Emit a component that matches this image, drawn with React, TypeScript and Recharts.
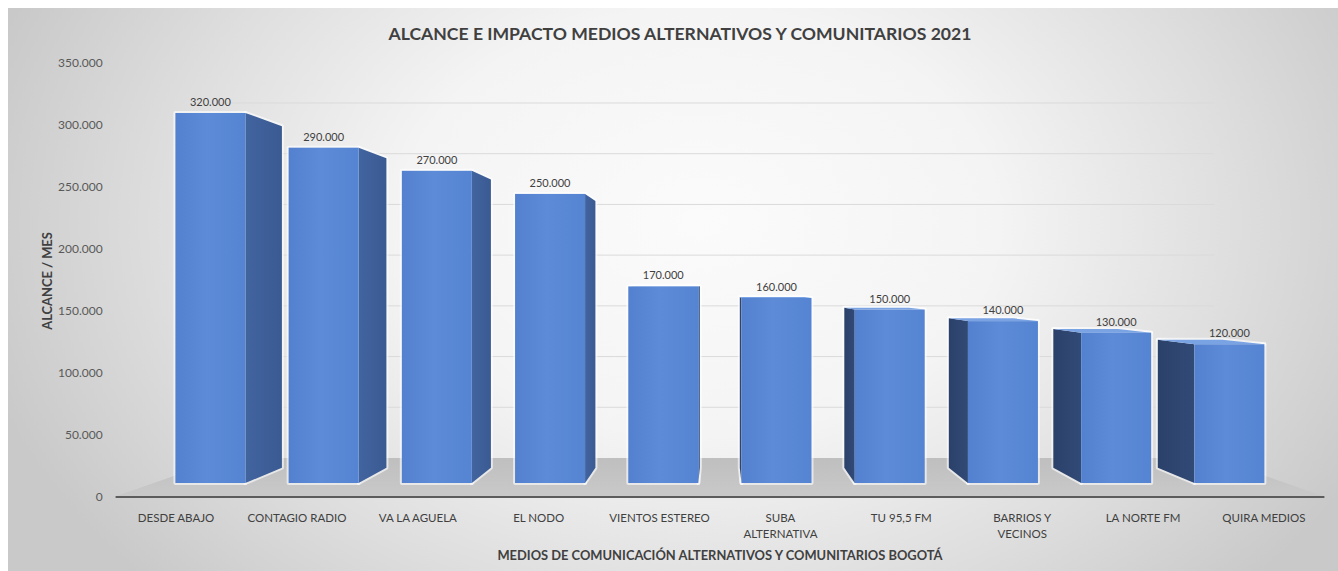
import React from 'react';
import { BarChart, Bar, XAxis, YAxis, ReferenceLine, ReferenceArea, LabelList } from 'recharts';

// ---------- data ----------
const categories = [
  'DESDE ABAJO',
  'CONTAGIO RADIO',
  'VA LA AGUELA',
  'EL NODO',
  'VIENTOS ESTEREO',
  'SUBA ALTERNATIVA',
  'TU 95,5 FM',
  'BARRIOS Y VECINOS',
  'LA NORTE FM',
  'QUIRA MEDIOS',
];
const alcance = [320000, 290000, 270000, 250000, 170000, 160000, 150000, 140000, 130000, 120000];
const yTicks = [0, 50000, 100000, 150000, 200000, 250000, 300000, 350000];

const chartTitle = 'ALCANCE E IMPACTO MEDIOS ALTERNATIVOS Y COMUNITARIOS 2021';
const xTitle = 'MEDIOS DE COMUNICACIÓN ALTERNATIVOS Y COMUNITARIOS BOGOTÁ';
const yTitle = 'ALCANCE / MES';

const data = categories.map((name, i) => ({ name, value: alcance[i] }));

// ---------- presentation ----------
const W = 1330;
const H = 563;
const FONT = "Lato, 'Open Sans', sans-serif";
const MAIN_DOMAIN: [number, number] = [0, 350000];
const BAR_DOMAIN: [number, number] = [-12108, 363230];
const WALL_DOMAIN: [number, number] = [-38450, 389430];
const VP = { x: 711.5, y: 277 };
const DEPTH = 0.077;
const WALL_INSET = 110;

const fmt = (v: any) => String(v).replace(/\B(?=(\d{3})+(?!\d))/g, '.');

function wrapWords(label: string, max = 15): string[] {
  const words = label.split(' ');
  const lines: string[] = [];
  let cur = '';
  for (const w of words) {
    const next = cur ? cur + ' ' + w : w;
    if (next.length > max && cur) {
      lines.push(cur);
      cur = w;
    } else {
      cur = next;
    }
  }
  if (cur) lines.push(cur);
  return lines;
}

const XTick = (props: any) => {
  const { x, y, payload } = props;
  const lines = wrapWords(String(payload.value));
  return (
    <text x={x} y={y} textAnchor="middle" fill="#404040" fontSize={11.5} fontFamily={FONT}>
      {lines.map((ln, i) => (
        <tspan key={i} x={x} dy={i === 0 ? 25 : 16}>
          {ln}
        </tspan>
      ))}
    </text>
  );
};

const pts = (arr: number[][]) => arr.map((p) => p.join(',')).join(' ');

const Bar3D = (props: any) => {
  const { x, y, width, height } = props;
  if (!(height > 0)) return <g />;
  const l = x;
  const r = x + width;
  const t = y;
  const b = y + height;
  const bk = (px: number, py: number) => [px + (VP.x - px) * DEPTH, py + (VP.y - py) * DEPTH];
  const faces: { p: number[][]; fill: string }[] = [];
  if (r < VP.x) faces.push({ p: [[r, t], bk(r, t), bk(r, b), [r, b]], fill: 'url(#sideR)' });
  if (l > VP.x) faces.push({ p: [[l, t], bk(l, t), bk(l, b), [l, b]], fill: 'url(#sideL)' });
  if (t > VP.y) faces.push({ p: [[l, t], [r, t], bk(r, t), bk(l, t)], fill: '#7aa3e3' });
  const front = [[l, t], [r, t], [r, b], [l, b]];
  return (
    <g>
      {faces.map((f, i) => (
        <polygon key={'g' + i} points={pts(f.p)} fill="none" stroke="#ffffff" strokeOpacity={0.6} strokeWidth={4} strokeLinejoin="round" />
      ))}
      <polygon points={pts(front)} fill="none" stroke="#ffffff" strokeOpacity={0.6} strokeWidth={4} strokeLinejoin="round" />
      {faces.map((f, i) => (
        <polygon key={'f' + i} points={pts(f.p)} fill={f.fill} />
      ))}
      <rect x={l} y={t} width={width} height={height} fill="url(#frontGrad)" />
    </g>
  );
};

const WallLine = (p: any) => (
  <line x1={p.x1 + WALL_INSET} x2={p.x2 - WALL_INSET} y1={p.y1} y2={p.y2} stroke="#dadada" strokeWidth={1} />
);

const Floor = (p: any) => {
  const { x, y, width, height } = p;
  const poly = [
    [x - 2, y + height],
    [x + WALL_INSET, y],
    [x + width - WALL_INSET, y],
    [x + width + 1, y + height],
  ];
  return <polygon points={pts(poly)} fill="url(#floorGrad)" />;
};

export default function App() {
  return (
    <div style={{ padding: '8px 0 0 8px' }}>
      <style>{'body{margin:0;overflow:hidden;background:#ffffff}'}</style>
      <div
        style={{
          position: 'relative',
          width: W,
          height: H,
          background:
            'radial-gradient(ellipse 56% 95% at 52% 38%, #fbfbfb 0%, #f4f4f4 40%, #dedede 72%, #c9c9c9 100%)',
        }}
      >
        <BarChart width={W} height={H} data={data} margin={{ top: 55, right: 13.6, bottom: 14, left: 0 }} barSize={70}>
          <defs>
            <linearGradient id="frontGrad" x1="0" y1="0" x2="1" y2="0">
              <stop offset="0%" stopColor="#5381cf" />
              <stop offset="45%" stopColor="#5d8bd7" />
              <stop offset="100%" stopColor="#5584d2" />
            </linearGradient>
            <linearGradient id="sideR" x1="0" y1="0" x2="1" y2="0">
              <stop offset="0%" stopColor="#42649f" />
              <stop offset="100%" stopColor="#3a5a92" />
            </linearGradient>
            <linearGradient id="sideL" x1="0" y1="0" x2="1" y2="0">
              <stop offset="0%" stopColor="#2b416a" />
              <stop offset="100%" stopColor="#314a76" />
            </linearGradient>
            <linearGradient id="floorGrad" x1="0" y1="0" x2="0" y2="1">
              <stop offset="0%" stopColor="#bfbfbf" />
              <stop offset="100%" stopColor="#c9c9c9" />
            </linearGradient>
          </defs>
          <XAxis
            xAxisId="cat"
            dataKey="name"
            type="category"
            height={60}
            tickSize={0}
            tickMargin={0}
            interval={0}
            tick={(p: any) => <XTick {...p} />}
            axisLine={{ stroke: '#5c5c5c', strokeWidth: 2 }}
            tickLine={false}
          />
          <XAxis xAxisId="bars" dataKey="name" type="category" hide height={0} padding={{ left: 37.8, right: 38.8 }} />
          <YAxis
            yAxisId="main"
            type="number"
            domain={MAIN_DOMAIN}
            ticks={yTicks}
            allowDataOverflow
            width={107.6}
            interval={0}
            tickFormatter={fmt}
            axisLine={false}
            tickLine={false}
            tickSize={0}
            tickMargin={13}
            tick={{ fill: '#595959', fontSize: 12, fontFamily: FONT }}
          />
          <YAxis yAxisId="bars" type="number" domain={BAR_DOMAIN} allowDataOverflow hide width={0} />
          <YAxis yAxisId="wall" type="number" domain={WALL_DOMAIN} allowDataOverflow hide width={0} />
          {yTicks
            .filter((v) => v > 0)
            .map((v) => (
              <ReferenceLine key={v} xAxisId="cat" yAxisId="wall" y={v} stroke="#dadada" shape={WallLine} zIndex={-90} />
            ))}
          <ReferenceArea
            xAxisId="cat"
            yAxisId="wall"
            y1={WALL_DOMAIN[0]}
            y2={0}
            shape={Floor}
            zIndex={-80}
            fill="#c6c6c6"
            fillOpacity={1}
          />
          <Bar xAxisId="bars" yAxisId="bars" dataKey="value" shape={Bar3D} isAnimationActive={false}>
            <LabelList dataKey="value" position="top" offset={7} formatter={fmt} fill="#404040" fontSize={11} fontFamily={FONT} />
          </Bar>
        </BarChart>
        <svg width={W} height={H} style={{ position: 'absolute', left: 0, top: 0, pointerEvents: 'none' }}>
          <text x={672} y={32} textAnchor="middle" fontFamily={FONT} fontWeight={700} fontSize={17.6} fill="#404040">
            {chartTitle}
          </text>
          <text x={712} y={552} textAnchor="middle" fontFamily={FONT} fontWeight={700} fontSize={12.9} fill="#404040">
            {xTitle}
          </text>
          <text
            transform="translate(44,273) rotate(-90)"
            textAnchor="middle"
            fontFamily={FONT}
            fontWeight={700}
            fontSize={12.9}
            fill="#404040"
          >
            {yTitle}
          </text>
        </svg>
      </div>
    </div>
  );
}
